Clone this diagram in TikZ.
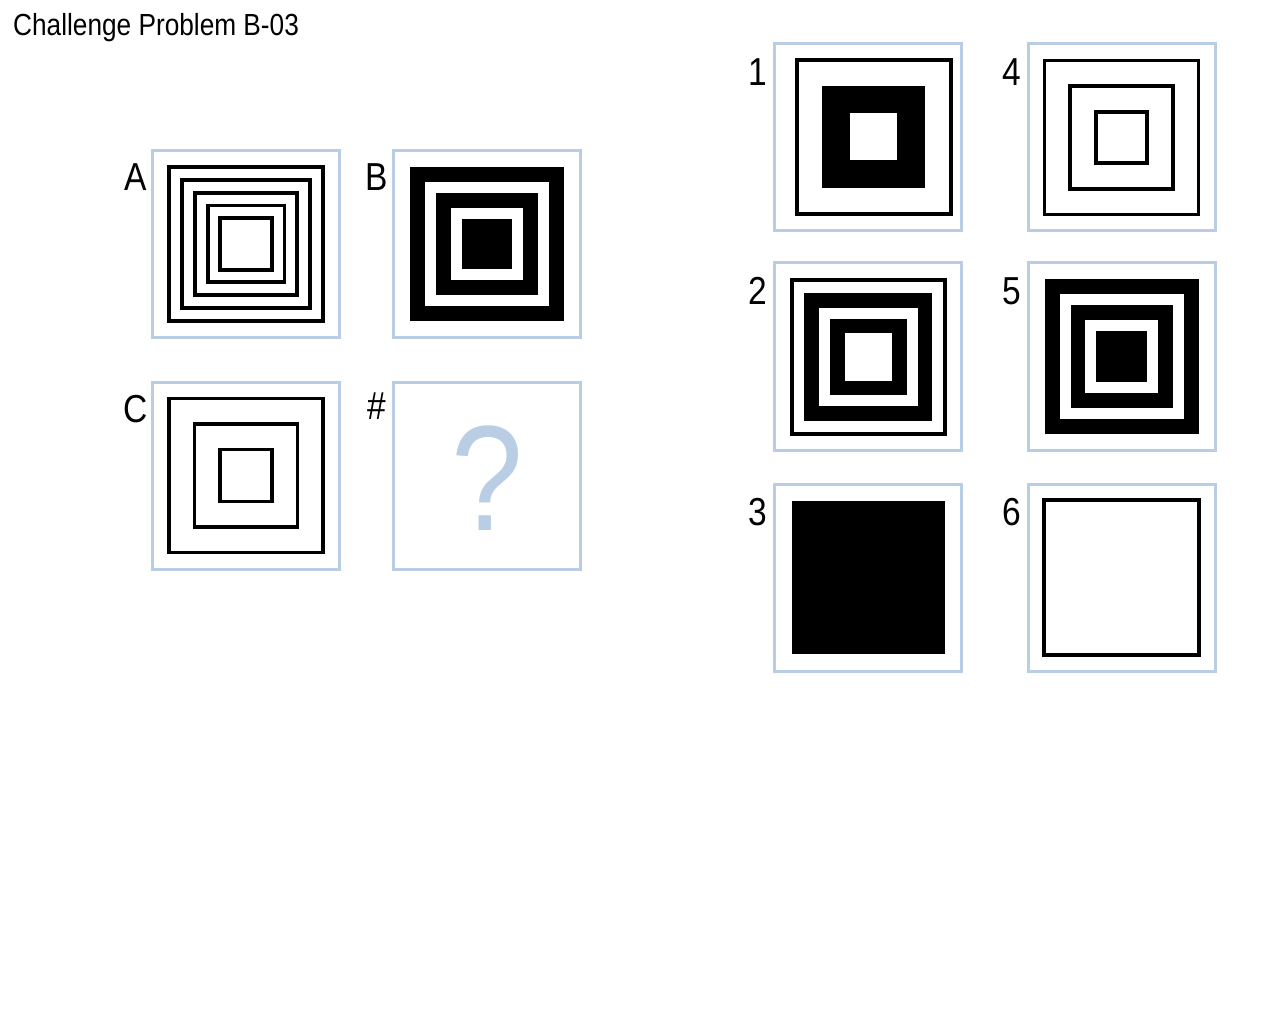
\documentclass[tikz,border=0pt]{standalone}
\usepackage{fontspec}
\setmainfont{Liberation Sans}
\newfontfamily\narrow[FakeStretch=0.86]{Liberation Sans}
\usepackage{tikz}
\usetikzlibrary{positioning, calc}
\definecolor{frameblue}{RGB}{185,205,228}

\begin{document}
\begin{tikzpicture}[x=1pt, y=-1pt,
  panel/.style={draw=frameblue, line width=3pt, minimum size=187pt, inner sep=0pt, outer sep=0pt},
  tag/.style={font=\narrow\fontsize{39}{39}\selectfont, inner sep=0pt, anchor=north east},
  ring/.style={draw, line width=3.8pt}]
\useasboundingbox (0,0) rectangle (1280,1024);

% Title
\node[font=\narrow\fontsize{30.5}{31}\selectfont, anchor=north west, inner sep=0pt] (title) at (13,13) {Challenge Problem B-03};

% Problem panels
\node[panel] (pA) at (246,244) {};
\node[panel] (pB) at (487,244) {};
\node[panel] (pC) at (246,475.5) {};
\node[panel] (pQ) at (487,475.5) {};

% Answer panels
\node[panel] (p1) at (868,137.5) {};
\node[panel] (p2) at (868,356.5) {};
\node[panel] (p3) at (868,577.5) {};
\node[panel] (p4) at (1121.5,137.5) {};
\node[panel] (p5) at (1121.5,356.5) {};
\node[panel] (p6) at (1121.5,577.5) {};

% Labels
\node[tag] (lA) at ($(pA.north west)+(-5,13)$) {A};
\node[tag] (lB) at ($(pB.north west)+(-5,13)$) {B};
\node[tag] (lC) at ($(pC.north west)+(-5,13)$) {C};
\node[tag] (lQ) at ($(pQ.north west)+(-7,11)$) {\#};
\foreach \n in {1,...,6}
  \node[tag] (l\n) at ($(p\n.north west)+(-7,14)$) {\n};

% A: five rings
\foreach \h in {77,64.2,51.2,38.4,25.8}
  \draw[ring] ($(pA.center)+(-\h,-\h)$) rectangle ($(pA.center)+(\h,\h)$);

% B: alternating solid squares
\foreach \h/\c in {77/black,62/white,51/black,36.3/white,25.3/black}
  \fill[\c] ($(pB.center)+(-\h,-\h)$) rectangle ($(pB.center)+(\h,\h)$);

% C: three rings
\foreach \h in {77,51.5,26}
  \draw[ring] ($(pC.center)+(-\h,-\h)$) rectangle ($(pC.center)+(\h,\h)$);

% Missing cell
\node[font=\narrow\fontsize{150}{150}\selectfont, text=frameblue, inner sep=0pt] (qm) at ($(pQ.center)+(0,2.5)$) {?};

% 1
\coordinate (c1) at ($(p1.center)+(5.7,-0.5)$);
\draw[ring] ($(c1)+(-77,-77)$) rectangle ($(c1)+(77,77)$);
\foreach \h/\c in {51.3/black,23.5/white}
  \fill[\c] ($(c1)+(-\h,-\h)$) rectangle ($(c1)+(\h,\h)$);

% 2
\coordinate (c2) at ($(p2.center)+(0.3,0.5)$);
\draw[ring] ($(c2)+(-76.7,-76.7)$) rectangle ($(c2)+(76.7,76.7)$);
\foreach \h/\c in {64/black,49.3/white,38.3/black,23.7/white}
  \fill[\c] ($(c2)+(-\h,-\h)$) rectangle ($(c2)+(\h,\h)$);

% 3
\fill ($(p3.center)+(-76.5,-76.5)$) rectangle ($(p3.center)+(76.5,76.5)$);

% 4
\foreach \h in {77,51.7,25.8}
  \draw[ring] ($(p4.center)+(-\h,-\h)$) rectangle ($(p4.center)+(\h,\h)$);

% 5
\foreach \h/\c in {77/black,62/white,51/black,36.3/white,25.3/black}
  \fill[\c] ($(p5.center)+(-\h,-\h)$) rectangle ($(p5.center)+(\h,\h)$);

% 6
\draw[ring] ($(p6.center)+(-77.3,-77.3)$) rectangle ($(p6.center)+(77.3,77.3)$);
\end{tikzpicture}
\end{document}
